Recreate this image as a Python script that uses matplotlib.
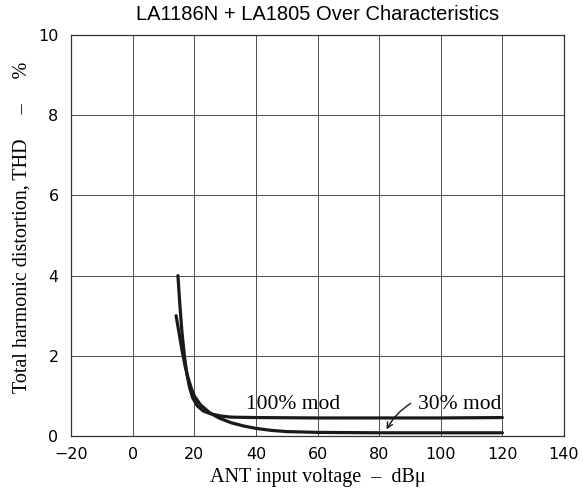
import matplotlib
matplotlib.use('Agg')
import matplotlib.pyplot as plt

# Data
x_100 = [14.7, 15.3, 16.0, 16.8, 17.6, 18.5, 19.5, 21.0, 23.0, 25.5, 28.5, 32.0, 40.0, 60.0, 80.0, 100.0, 120.0]
y_100 = [4.0, 3.3, 2.6, 2.0, 1.55, 1.2, 0.95, 0.75, 0.62, 0.55, 0.5, 0.47, 0.46, 0.45, 0.45, 0.45, 0.46]
x_30 = [14.1, 15.0, 16.0, 17.0, 18.0, 19.0, 20.0, 22.0, 25.0, 28.0, 32.0, 36.0, 40.0, 45.0, 50.0, 60.0, 80.0, 100.0, 120.0]
y_30 = [3.0, 2.6, 2.15, 1.75, 1.45, 1.2, 1.0, 0.78, 0.58, 0.45, 0.33, 0.25, 0.19, 0.14, 0.11, 0.09, 0.08, 0.08, 0.08]

x_ticks = [-20, 0, 20, 40, 60, 80, 100, 120, 140]
y_ticks = [0, 2, 4, 6, 8, 10]

fig = plt.figure(figsize=(5.83, 4.95), dpi=100)
ax = fig.add_axes([0.1218, 0.1192, 0.8456, 0.8101])

ax.plot(x_100, y_100, color='#1a1a1a', linewidth=2.3, solid_capstyle='round')
ax.plot(x_30, y_30, color='#1a1a1a', linewidth=2.3, solid_capstyle='round')

ax.set_xlim(-20, 140)
ax.set_ylim(0, 10)
ax.set_xticks(x_ticks)
ax.set_yticks(y_ticks)
ax.tick_params(length=0, labelsize=11.5)
ax.tick_params(axis='x', pad=8)
ax.tick_params(axis='y', pad=9)
ax.grid(True, color='#333333', linewidth=0.6)
for s in ax.spines.values():
    s.set_color('#333333')
    s.set_linewidth(0.9)

ax.text(52, 0.55, '100% mod', family='Liberation Serif', fontsize=15.5,
        ha='center', va='bottom')
ax.text(106, 0.55, '30% mod', family='Liberation Serif', fontsize=15.5,
        ha='center', va='bottom')
ax.annotate('', xy=(82, 0.1), xytext=(91, 0.85),
            arrowprops=dict(arrowstyle='->', color='#1a1a1a', lw=1.0,
                            connectionstyle='arc3,rad=0.15'))

ax.set_xlabel('ANT input voltage  –  dBμ', family='Liberation Serif', fontsize=14.5, labelpad=4)
ax.set_ylabel('Total harmonic distortion, THD     –     %', family='Liberation Serif',
              fontsize=14.5)
ax.yaxis.set_label_coords(-0.08, 0.52)
ax.set_title('LA1186N + LA1805 Over Characteristics', family='Liberation Sans', fontsize=14.5, pad=11)

plt.savefig('out.png', dpi=100)
